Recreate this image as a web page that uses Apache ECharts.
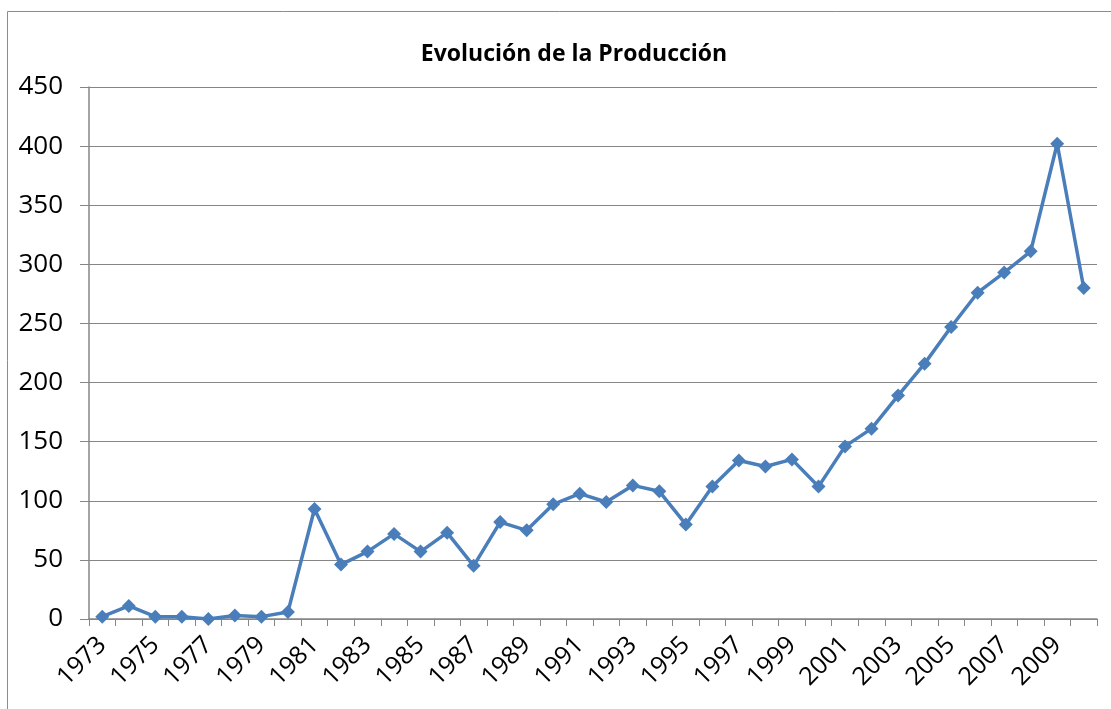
<!DOCTYPE html>
<html lang="es">
<head>
    <meta charset="UTF-8">
    <title>Evolución de la Producción</title>
    <style>
        html, body { margin: 0; padding: 0; background: #fff; }
    </style>
</head>
<body>
<div id="main" style="width: 1111px;height:709px;"></div>

<script src="https://cdn.jsdelivr.net/npm/echarts@6/dist/echarts.min.js"></script>
<script>
    // años 1973 - 2010
    var years = ['1973', '1974', '1975', '1976', '1977', '1978', '1979', '1980', '1981', '1982',
        '1983', '1984', '1985', '1986', '1987', '1988', '1989', '1990', '1991', '1992',
        '1993', '1994', '1995', '1996', '1997', '1998', '1999', '2000', '2001', '2002',
        '2003', '2004', '2005', '2006', '2007', '2008', '2009', '2010'];

    var produccion = [2, 11, 2, 2, 0, 3, 2, 6, 93, 46,
        57, 72, 57, 73, 45, 82, 75, 97, 106, 99,
        113, 108, 80, 112, 134, 129, 135, 112, 146, 161,
        189, 216, 247, 276, 293, 311, 402, 280];

    var yTicks = [0, 50, 100, 150, 200, 250, 300, 350, 400, 450];

    var font = 'Open Sans, Liberation Sans, sans-serif';
    var chart = echarts.init(document.getElementById('main'));
    chart.setOption({
        backgroundColor: '#fff',
        animation: false,
        title: {
            text: 'Evolución de la Producción',
            left: 569,
            textAlign: 'center',
            top: 38,
            textStyle: {
                color: '#000',
                fontWeight: 'bold',
                fontSize: 23,
                fontFamily: font
            }
        },
        graphic: [{
            type: 'rect',
            shape: { x: 7.5, y: 11.5, width: 1200, height: 1000 },
            style: { fill: 'none', stroke: '#8c8c8c', lineWidth: 1 },
            silent: true
        }],
        grid: {
            left: 89,
            right: 14,
            top: 87,
            bottom: 90
        },
        xAxis: {
            type: 'category',
            data: years,
            boundaryGap: true,
            axisLine: { lineStyle: { color: '#868686', width: 1.5 } },
            axisTick: { show: true, inside: false, length: 7, interval: 0, lineStyle: { color: '#868686' } },
            axisLabel: {
                interval: 1,
                rotate: 45,
                color: '#000',
                fontSize: 25,
                fontFamily: font,
                margin: 22
            }
        },
        yAxis: {
            type: 'value',
            min: yTicks[0],
            max: yTicks[yTicks.length - 1],
            interval: 50,
            axisLine: { show: true, lineStyle: { color: '#868686', width: 1.5 } },
            axisTick: { show: true, length: 9, lineStyle: { color: '#868686' } },
            splitLine: { show: true, lineStyle: { color: '#868686', width: 1 } },
            axisLabel: {
                color: '#000',
                fontSize: 26,
                fontFamily: font,
                margin: 26
            }
        },
        series: [{
            name: 'Producción',
            type: 'line',
            data: produccion,
            symbol: 'diamond',
            symbolSize: 14,
            lineStyle: { color: '#4a7ebb', width: 3.5 },
            itemStyle: { color: '#4a7ebb' }
        }]
    });
</script>
</body>
</html>
